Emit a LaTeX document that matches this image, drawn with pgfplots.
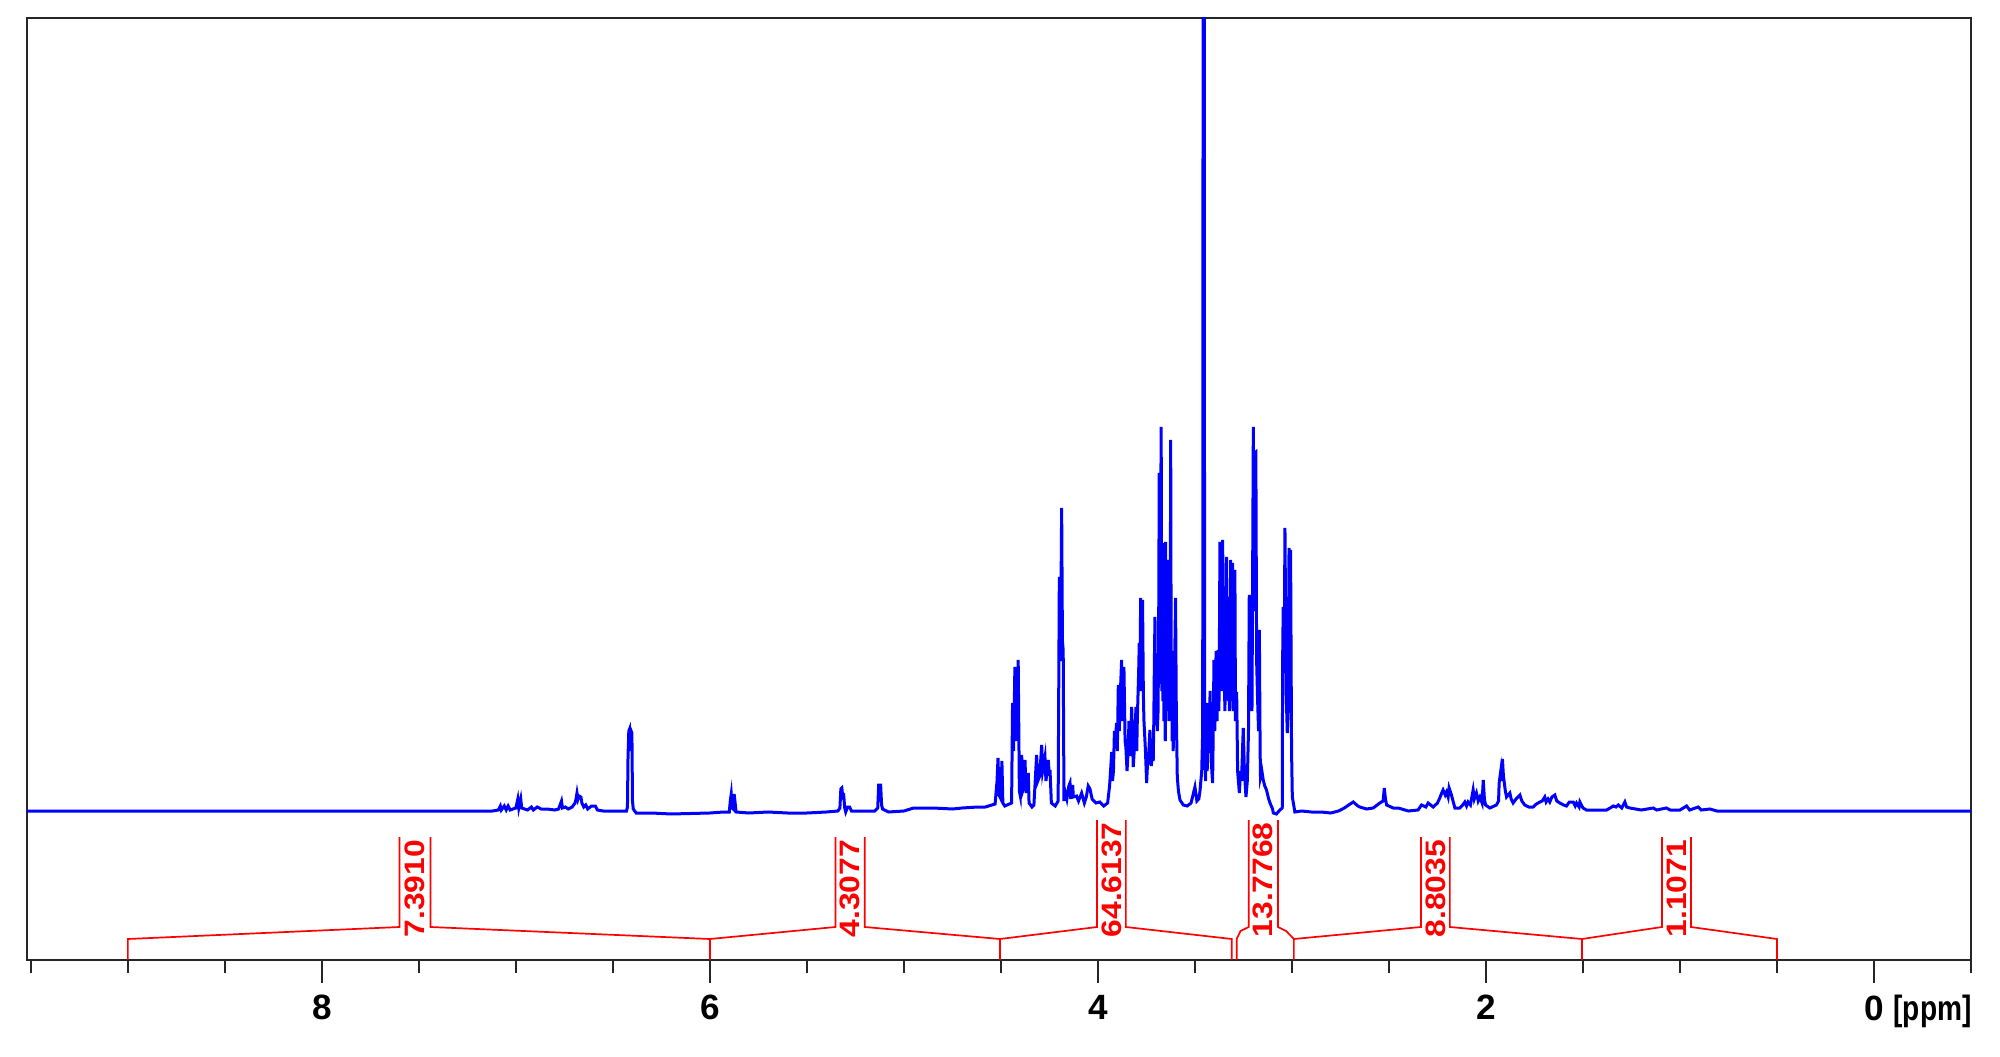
\documentclass[border=0pt]{standalone}
\usepackage{fontspec}
\setmainfont{Liberation Sans}
\usepackage{pgfplots}
\pgfplotsset{compat=1.18}
\begin{document}
\begin{tikzpicture}
\useasboundingbox (-2.7mm,-9.65mm) rectangle (197.3mm,95.95mm);
\begin{axis}[
  at={(0,0)}, anchor=south west,
  scale only axis, width=194.4mm, height=94.15mm,
  x dir=reverse, xmin=-0.5, xmax=9.52, ymin=-148.5, ymax=793,
  axis line style={black!85, line width=0.2mm},
  xtick={0,2,4,6,8},
  xticklabels={0\rlap{\hspace{0.28em}\scalebox{0.8}[1]{[ppm]}},2,4,6,8},
  minor xtick={-0.5,0.5,1,1.5,2.5,3,3.5,4.5,5,5.5,6.5,7,7.5,8.5,9,9.5},
  ytick=\empty,
  xtick pos=bottom,
  tick align=outside,
  major tick length=2.3mm, minor tick length=1.3mm,
  tick style={black!85, line width=0.2mm},
  xticklabel style={font=\bfseries\fontsize{10}{12}\selectfont, text=black},
]
\addplot[color={rgb,255:red,0;green,0;blue,255}, line width=0.3mm] table {
x y
9.52 0
7.12 0
7.09 1
7.08 5
7.075 1
7.06 5
7.05 1
7.04 5
7.03 1
7.00 3
6.99 12
6.985 3
6.975 12
6.97 3
6.955 2
6.94 1
6.92 4
6.91 1
6.89 4
6.87 2
6.84 2
6.80 1
6.78 2
6.765 10
6.76 3
6.745 4
6.73 2
6.71 4
6.695 8
6.69 12
6.685 18
6.68 12
6.675 15
6.665 14
6.66 8
6.65 4
6.64 6
6.63 2
6.61 5
6.59 5
6.58 1
6.55 0
6.43 0
6.425 4
6.422 55
6.418 80
6.414 82
6.41 60
6.406 80
6.402 78
6.399 10
6.395 2
6.38 -2
6.30 -2
6.20 -3
6.00 -2
5.93 -1
5.90 -1
5.895 10
5.89 17
5.885 3
5.88 2
5.875 17
5.87 8
5.865 -1
5.80 -2
5.70 -1
5.60 -2
5.50 -2
5.40 -1
5.34 0
5.33 3
5.325 22
5.32 23
5.315 14
5.31 15
5.305 3
5.30 -1
5.29 4
5.28 4
5.27 0
5.22 0
5.15 0
5.135 3
5.13 26
5.12 26
5.115 6
5.11 2
5.10 1
5.08 -1
5.00 0
4.95 3
4.85 3
4.75 2
4.70 3
4.62 4
4.58 4
4.53 7
4.52 30
4.515 53
4.51 16
4.50 12
4.495 50
4.49 8
4.48 5
4.445 8
4.44 108
4.435 60
4.428 144
4.42 70
4.411 151
4.405 20
4.40 15
4.393 56
4.388 20
4.38 25
4.376 51
4.37 18
4.359 38
4.355 8
4.34 4
4.33 6
4.316 56
4.31 30
4.30 35
4.290 66
4.285 40
4.273 54
4.268 30
4.256 51
4.25 35
4.247 41
4.24 8
4.22 5
4.205 10
4.199 234
4.193 150
4.187 303
4.183 170
4.179 161
4.175 10
4.17 20
4.16 12
4.15 25
4.144 28
4.14 12
4.13 26
4.127 14
4.11 15
4.10 10
4.084 18
4.07 8
4.06 14
4.05 25
4.041 22
4.03 12
4.01 8
3.99 9
3.97 5
3.95 8
3.94 25
3.935 40
3.929 59
3.925 30
3.92 40
3.915 80
3.91 70
3.904 88
3.90 60
3.895 126
3.89 80
3.884 120
3.878 151
3.875 90
3.872 110
3.866 144
3.86 70
3.856 64
3.85 40
3.844 61
3.84 90
3.835 55
3.83 80
3.826 104
3.82 60
3.818 44
3.81 70
3.804 104
3.80 60
3.797 91
3.79 140
3.787 168
3.783 120
3.780 213
3.775 150
3.770 211
3.766 120
3.763 91
3.755 60
3.749 28
3.745 45
3.74 50
3.735 70
3.732 81
3.725 45
3.718 61
3.715 50
3.712 90
3.709 150
3.706 194
3.703 110
3.70 130
3.698 144
3.694 80
3.69 100
3.687 180
3.684 338
3.681 150
3.678 230
3.674 384
3.671 120
3.668 220
3.665 110
3.663 268
3.66 90
3.658 150
3.655 138
3.653 70
3.651 269
3.648 110
3.645 120
3.642 100
3.640 160
3.637 251
3.634 90
3.632 180
3.628 120
3.625 371
3.622 100
3.62 160
3.617 70
3.615 138
3.612 60
3.61 90
3.605 140
3.60 213
3.596 100
3.591 34
3.585 20
3.577 11
3.56 6
3.54 5
3.52 8
3.50 24
3.49 10
3.48 12
3.474 20
3.465 40
3.46 80
3.457 1200
3.453 1200
3.45 60
3.445 30
3.44 108
3.437 40
3.435 50
3.43 90
3.426 58
3.422 120
3.419 84
3.415 50
3.413 40
3.409 28
3.405 90
3.402 151
3.398 80
3.395 100
3.391 160
3.388 131
3.386 90
3.384 110
3.380 161
3.377 100
3.375 120
3.373 200
3.371 269
3.368 120
3.366 150
3.364 230
3.362 200
3.360 120
3.357 271
3.354 140
3.352 180
3.349 181
3.346 100
3.343 120
3.340 200
3.337 254
3.334 120
3.33 160
3.327 110
3.325 214
3.322 100
3.32 140
3.318 200
3.316 251
3.313 110
3.31 150
3.308 190
3.306 248
3.303 100
3.30 120
3.297 180
3.294 241
3.291 90
3.29 100
3.285 119
3.28 40
3.271 18
3.265 40
3.26 30
3.251 83
3.245 40
3.237 14
3.23 30
3.224 80
3.220 216
3.216 120
3.213 144
3.206 100
3.199 384
3.195 200
3.192 358
3.186 359
3.182 150
3.177 111
3.172 80
3.168 181
3.164 60
3.162 34
3.155 40
3.148 31
3.14 25
3.131 21
3.12 12
3.113 8
3.10 2
3.096 -2
3.08 -3
3.062 1
3.05 3
3.048 150
3.045 204
3.04 150
3.036 283
3.03 120
3.024 78
3.02 100
3.015 263
3.01 200
3.007 261
3.002 60
2.998 14
2.99 5
2.985 -1
2.95 0
2.90 -1
2.85 -1
2.80 -2
2.76 0
2.73 3
2.70 7
2.684 9
2.66 5
2.65 4
2.615 2
2.581 3
2.547 8
2.53 10
2.524 23
2.518 12
2.512 6
2.478 3
2.452 3
2.40 0
2.35 1
2.332 6
2.31 4
2.298 8
2.272 4
2.25 8
2.238 13
2.228 18
2.221 21
2.21 16
2.203 19
2.195 14
2.190 23
2.178 16
2.16 3
2.135 3
2.12 6
2.109 9
2.10 5
2.092 9
2.08 6
2.066 21
2.06 12
2.049 18
2.04 10
2.031 14
2.02 8
2.014 31
2.008 12
2.002 6
1.98 3
1.946 6
1.935 10
1.932 28
1.923 41
1.918 30
1.915 52
1.91 35
1.906 29
1.90 20
1.894 14
1.885 16
1.877 18
1.87 12
1.86 8
1.845 12
1.825 16
1.815 10
1.80 6
1.78 4
1.757 4
1.74 7
1.722 9
1.71 10
1.697 14
1.69 9
1.68 12
1.671 9
1.66 14
1.645 16
1.635 10
1.619 8
1.60 6
1.585 5
1.57 9
1.55 9
1.54 5
1.533 8
1.52 4
1.516 9
1.50 3
1.482 1
1.40 1
1.378 1
1.36 3
1.344 5
1.33 4
1.318 6
1.30 3
1.284 9
1.275 4
1.258 3
1.20 1
1.138 3
1.12 1
1.07 3
1.05 1
1.00 1
0.966 5
0.95 1
0.906 4
0.89 1
0.846 2
0.81 0
0.50 0
-0.5 0
};
% integral curves with label brackets
\addplot[red, line width=0.17mm] coordinates {(9.0,-148.5) (9.0,-128) (7.60,-116) (7.60,-26)};
\addplot[red, line width=0.17mm] coordinates {(7.44,-26) (7.44,-116) (6.0,-128) (6.0,-148.5)};
\addplot[red, line width=0.17mm] coordinates {(6.0,-128) (5.353,-116) (5.353,-26)};
\addplot[red, line width=0.17mm] coordinates {(5.202,-26) (5.202,-116) (4.505,-128) (4.505,-148.5)};
\addplot[red, line width=0.17mm] coordinates {(4.505,-128) (4.005,-116) (4.005,-9)};
\addplot[red, line width=0.17mm] coordinates {(3.856,-9) (3.856,-116) (3.31,-128) (3.31,-148.5)};
\addplot[red, line width=0.17mm] coordinates {(3.285,-148.5) (3.285,-128) (3.265,-120) (3.223,-116) (3.223,-9)};
\addplot[red, line width=0.17mm] coordinates {(3.072,-9) (3.072,-116) (3.03,-120) (2.99,-128) (2.99,-148.5)};
\addplot[red, line width=0.17mm] coordinates {(2.99,-128) (2.335,-116) (2.335,-26)};
\addplot[red, line width=0.17mm] coordinates {(2.186,-26) (2.186,-116) (1.505,-128) (1.505,-148.5)};
\addplot[red, line width=0.17mm] coordinates {(1.505,-128) (1.093,-116) (1.093,-26)};
\addplot[red, line width=0.17mm] coordinates {(0.943,-26) (0.943,-116) (0.50,-128) (0.50,-148.5)};
\begin{scope}[every node/.style={rotate=90, xscale=1.13, anchor=west, inner sep=0pt, text=red, font=\bfseries\fontsize{8}{9}\selectfont}]
\node at (axis cs:7.52,-127) {7.3910};
\node at (axis cs:5.278,-127) {4.3077};
\node at (axis cs:3.93,-127) {64.6137};
\node at (axis cs:3.148,-127) {13.7768};
\node at (axis cs:2.26,-127) {8.8035};
\node at (axis cs:1.018,-127) {1.1071};
\end{scope}
\end{axis}
\end{tikzpicture}
\end{document}
